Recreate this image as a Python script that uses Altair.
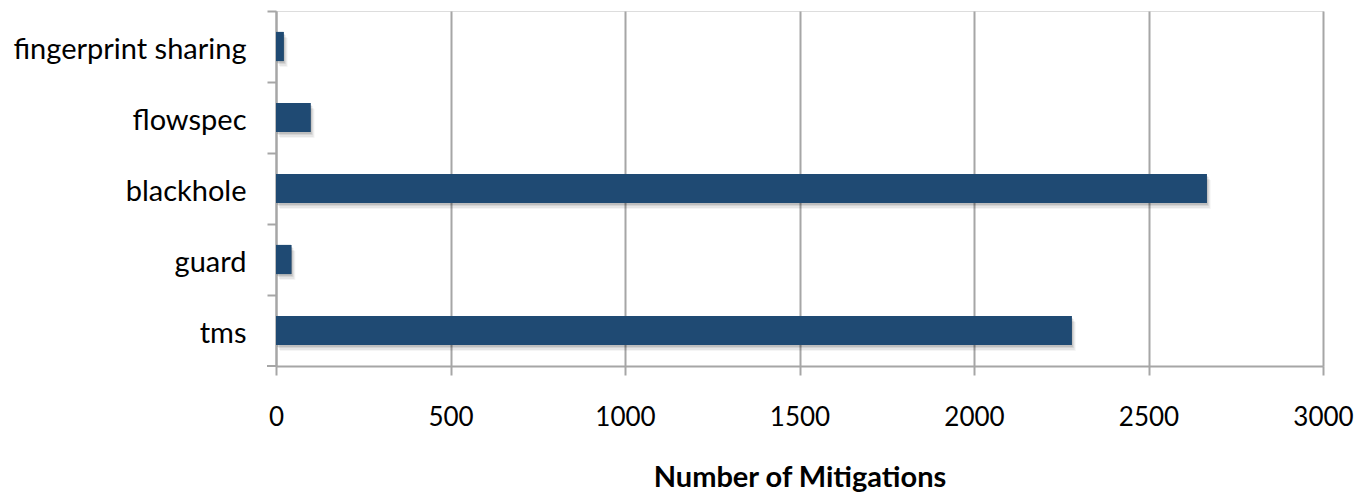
import altair as alt
import pandas as pd

# Mitigation types and how many times each was used
methods = ["fingerprint sharing", "flowspec", "blackhole", "guard", "tms"]
counts = [22, 99, 2667, 44, 2280]

df = pd.DataFrame({"method": methods, "count": counts})

GRID = "#A6A6A6"
BAR = "#1F4A73"
FONT = "Lato"

x_enc = alt.X(
    "count:Q",
    scale=alt.Scale(domain=[0, 3000], nice=False, zero=True),
    axis=alt.Axis(
        values=[0, 500, 1000, 1500, 2000, 2500, 3000],
        format="d",
        title="Number of Mitigations",
        grid=True,
        gridColor=GRID,
        gridWidth=2,
        domainColor=GRID,
        domainWidth=2,
        tickColor=GRID,
        tickWidth=2,
        tickSize=9,
        labelFont=FONT,
        labelFontSize=26,
        labelColor="#000000",
        labelPadding=29,
        labelFlush=False,
        titleFont=FONT,
        titleFontSize=29,
        titleFontWeight="bold",
        titleColor="#000000",
        titlePadding=33,
    ),
)

y_enc = alt.Y(
    "method:N",
    sort=methods,
    scale=alt.Scale(paddingInner=0, paddingOuter=0),
    axis=alt.Axis(
        title=None,
        grid=False,
        domainColor=GRID,
        domainWidth=2,
        tickColor=GRID,
        tickWidth=2,
        tickSize=9,
        bandPosition=0,
        labelFont=FONT,
        labelFontSize=29,
        labelColor="#000000",
        labelPadding=21,
        labelOffset=3,
        labelLimit=0,
    ),
)

bar_height = alt.RelativeBandSize(0.41)

# soft drop shadow beneath each bar
shadows = [
    alt.Chart(df)
    .mark_bar(height=bar_height, color="#000000", opacity=op, xOffset=dx, yOffset=dy)
    .encode(x=alt.X("count:Q"), y=alt.Y("method:N", sort=methods))
    for dx, dy, op in [(1, 2, 0.10), (2, 3, 0.08), (3, 5, 0.06), (4, 6, 0.04)]
]

bars = (
    alt.Chart(df)
    .mark_bar(height=bar_height, color=BAR)
    .encode(x=x_enc, y=y_enc)
)

# closing tick at the bottom of the category axis
end_tick = (
    alt.Chart(df.head(1))
    .mark_rule(color=GRID, strokeWidth=2)
    .encode(x=alt.value(-9), x2=alt.value(0), y=alt.value(355))
)

chart = (
    alt.layer(bars, *shadows, bars, end_tick)
    .properties(
        width=1047,
        height=355,
        autosize=alt.AutoSizeParams(type="none"),
        padding={"left": 276, "top": 11, "right": 35, "bottom": 127},
    )
    .configure_view(stroke=None)
    .configure(background="white")
)

chart.save("out.html", embed_options={"renderer": "svg", "actions": False})
